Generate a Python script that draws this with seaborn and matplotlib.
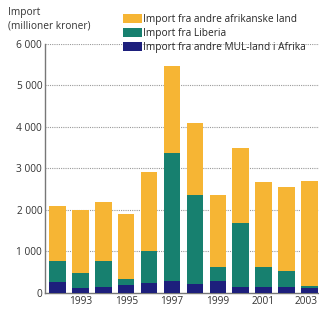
import matplotlib
matplotlib.use("Agg")
import matplotlib.pyplot as plt
import matplotlib.transforms as mtransforms
import seaborn as sns
import pandas as pd
from matplotlib.patches import Patch

years = [1992, 1993, 1994, 1995, 1996, 1997, 1998, 1999, 2000, 2001, 2002, 2003]
mul_afrika = [255, 115, 135, 200, 230, 295, 215, 295, 150, 150, 135, 120]
liberia = [515, 360, 640, 145, 780, 3080, 2150, 325, 1540, 470, 400, 50]
andre_afrika = [1330, 1525, 1425, 1555, 1890, 2075, 1715, 1730, 1790, 2055, 2015, 2530]
yticks = [0, 1000, 2000, 3000, 4000, 5000, 6000]
ytick_labels = ["0", "1 000", "2 000", "3 000", "4 000", "5 000", "6 000"]
legend_labels = ["Import fra andre afrikanske land", "Import fra Liberia",
                 "Import fra andre MUL-land i Afrika"]

c_orange = "#F6B534"
c_teal = "#17806F"
c_navy = "#1D1F7C"

df = pd.DataFrame({"year": [str(y) for y in years],
                   "mul": mul_afrika, "lib": liberia, "andre": andre_afrika})
df["cum_lib"] = df["mul"] + df["lib"]
df["total"] = df["cum_lib"] + df["andre"]

sns.set_style("white")
plt.rcParams["font.family"] = ["Open Sans", "DejaVu Sans"]

W, H = 319, 312
fig = plt.figure(figsize=(W / 100, H / 100), dpi=100)
ax_l, ax_r = 45, 319
ax_b, ax_t = 293, 43.5
ax = fig.add_axes([ax_l / W, (H - ax_b) / H, (ax_r - ax_l) / W, (ax_b - ax_t) / H])

for col, c in [("total", c_orange), ("cum_lib", c_teal), ("mul", c_navy)]:
    sns.barplot(data=df, x="year", y=col, color=c, width=0.72, ax=ax,
                saturation=1, linewidth=0, zorder=3)

step = 22.9
left = -12.5 / step
ax.set_xlim(left, left + (ax_r - ax_l) / step)
ax.set_ylim(0, 6000)

for y in yticks[1:]:
    ax.axhline(y, color="#9a9a9a", lw=0.8, ls=(0, (1, 1)), zorder=1)

ax.set_yticks(yticks)
ax.set_yticklabels(ytick_labels, fontsize=7.3, color="#333333")
ax.set_xticks(range(len(years)))
ax.set_xticklabels([str(y) if y % 2 == 1 else "" for y in years],
                   fontsize=7.3, color="#333333")
ax.tick_params(axis="both", length=0, pad=2)
last = ax.get_xticklabels()[-1]
last.set_transform(last.get_transform() +
                   mtransforms.ScaledTranslation(-3 / 100, 0, fig.dpi_scale_trans))
ax.set_xlabel("")
ax.set_ylabel("")

for s in ["top", "right"]:
    ax.spines[s].set_visible(False)
ax.spines["left"].set_color("#777777")
ax.spines["left"].set_linewidth(1.0)
ax.spines["bottom"].set_color("#777777")
ax.spines["bottom"].set_linewidth(1.0)

fig.text(8 / W, 1 - 13 / H, "Import", fontsize=7.3, color="#333333", va="center")
fig.text(8 / W, 1 - 26 / H, "(millioner kroner)", fontsize=7.3, color="#333333", va="center")

handles = [Patch(facecolor=c, edgecolor="none") for c in [c_orange, c_teal, c_navy]]
fig.legend(handles, legend_labels, loc="upper left", bbox_to_anchor=(123 / W, 1 - 14 / H),
           frameon=False, fontsize=7.3, handlelength=1.9, handleheight=0.9,
           handletextpad=0.1, labelspacing=0.3, borderpad=0, borderaxespad=0)

fig.savefig("out.png", dpi=100)
